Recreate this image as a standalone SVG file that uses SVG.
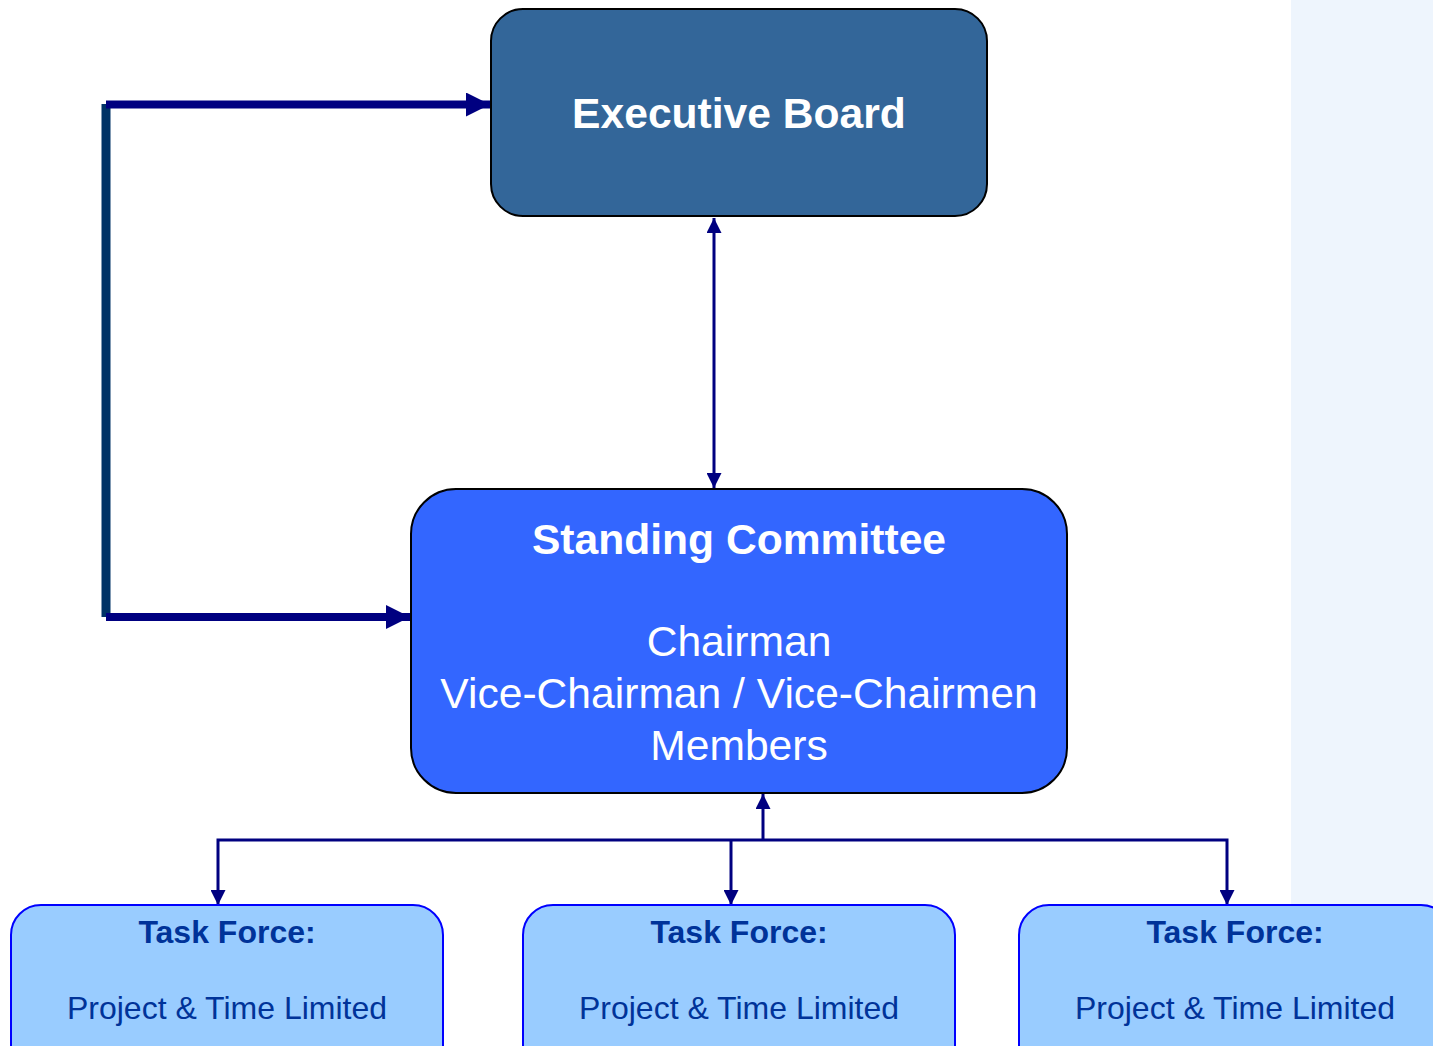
<svg xmlns="http://www.w3.org/2000/svg" width="1433" height="1046" viewBox="0 0 1433 1046">
<style>
.t{font-family:"Liberation Sans",Arial,sans-serif;text-anchor:middle}
.w{fill:#ffffff;font-size:42.6px}
.b{font-weight:bold}
.tf{fill:#003399;font-size:32px}
.task{fill:#99CCFF;stroke:#0000FF;stroke-width:2}
.c{stroke:#000080;stroke-width:3;fill:none}
.ct{stroke:#000080;stroke-width:8;fill:none}
</style>
<defs>
<marker id="a" viewBox="0 0 10 10" refX="10" refY="5" markerWidth="5" markerHeight="5" orient="auto-start-reverse" markerUnits="strokeWidth"><path d="M0,0 L10,5 L0,10 z" fill="#000080"/></marker>
<marker id="ab" viewBox="0 0 10 10" refX="10" refY="5" markerWidth="3" markerHeight="3" orient="auto" markerUnits="strokeWidth"><path d="M0,0 L10,5 L0,10 z" fill="#000080"/></marker>
</defs>
<rect x="0" y="0" width="1433" height="1046" fill="#ffffff"/>
<rect x="1291" y="0" width="142" height="1046" fill="#EEF5FD"/>
<g id="connectors">
<line x1="106" y1="104" x2="106" y2="617" stroke="#003366" stroke-width="9"/>
<line class="ct" x1="106" y1="104.5" x2="490" y2="104.5" marker-end="url(#ab)"/>
<line class="ct" x1="106" y1="617" x2="410" y2="617" marker-end="url(#ab)"/>
<line class="c" x1="714" y1="218" x2="714" y2="488" marker-start="url(#a)" marker-end="url(#a)"/>
<line class="c" x1="763" y1="840" x2="763" y2="794" marker-end="url(#a)"/>
<polyline class="c" points="218,905 218,840 1227,840 1227,905" marker-start="url(#a)" marker-end="url(#a)"/>
<line class="c" x1="731" y1="840" x2="731" y2="905" marker-end="url(#a)"/>
</g>
<g id="executive-board">
<rect x="491" y="9" width="496" height="207" rx="32" fill="#336699" stroke="#000000" stroke-width="2"/>
<text class="t w b" x="739" y="128">Executive Board</text>
</g>
<g id="standing-committee">
<rect x="411" y="489" width="656" height="304" rx="45" fill="#3366FF" stroke="#000000" stroke-width="2"/>
<text class="t w b" x="739" y="554">Standing Committee</text>
<text class="t w" x="739" y="656">Chairman</text>
<text class="t w" x="739" y="708">Vice-Chairman / Vice-Chairmen</text>
<text class="t w" x="739" y="760">Members</text>
</g>
<g id="task-force-1">
<rect class="task" x="11" y="905" width="432" height="170" rx="30"/>
<text class="t tf b" x="227" y="943">Task Force:</text>
<text class="t tf" x="227" y="1019">Project &amp; Time Limited</text>
</g>
<g id="task-force-2">
<rect class="task" x="523" y="905" width="432" height="170" rx="30"/>
<text class="t tf b" x="739" y="943">Task Force:</text>
<text class="t tf" x="739" y="1019">Project &amp; Time Limited</text>
</g>
<g id="task-force-3">
<rect class="task" x="1019" y="905" width="432" height="170" rx="30"/>
<text class="t tf b" x="1235" y="943">Task Force:</text>
<text class="t tf" x="1235" y="1019">Project &amp; Time Limited</text>
</g>
</svg>
